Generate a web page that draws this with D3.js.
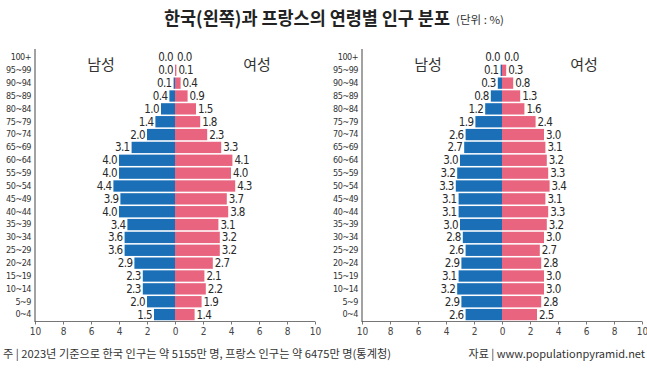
<!DOCTYPE html>
<html>
<head>
<meta charset="utf-8">
<script src="https://cdn.jsdelivr.net/npm/d3@7"></script>
<style>
  body { margin: 0; background: #fff; }
  svg { display: block; }
  .num { font-family: "Liberation Sans Narrow", "DejaVu Sans Condensed", "Liberation Sans", sans-serif; }
  .kr { font-family: "Noto Sans CJK KR", "Noto Sans", sans-serif; }
</style>
</head>
<body>
<div id="vis"></div>
<script>
const WIDTH = 647;
const HEIGHT = 370;

const SVG = d3.select("#vis").append("svg")
  .attr("width", WIDTH).attr("height", HEIGHT);

// 연령대 (위에서 아래로)
const ages = ["100+", "95~99", "90~94", "85~89", "80~84", "75~79", "70~74", "65~69",
  "60~64", "55~59", "50~54", "45~49", "40~44", "35~39", "30~34", "25~29",
  "20~24", "15~19", "10~14", "5~9", "0~4"];

const koreaMale = [0.0, 0.0, 0.1, 0.4, 1.0, 1.4, 2.0, 3.1, 4.0, 4.0, 4.4, 3.9, 4.0,
  3.4, 3.6, 3.6, 2.9, 2.3, 2.3, 2.0, 1.5];
const koreaFemale = [0.0, 0.1, 0.4, 0.9, 1.5, 1.8, 2.3, 3.3, 4.1, 4.0, 4.3, 3.7, 3.8,
  3.1, 3.2, 3.2, 2.7, 2.1, 2.2, 1.9, 1.4];
const franceMale = [0.0, 0.1, 0.3, 0.8, 1.2, 1.9, 2.6, 2.7, 3.0, 3.2, 3.3, 3.1, 3.1,
  3.0, 2.8, 2.6, 2.9, 3.1, 3.2, 2.9, 2.6];
const franceFemale = [0.0, 0.3, 0.8, 1.3, 1.6, 2.4, 3.0, 3.1, 3.2, 3.3, 3.4, 3.1, 3.3,
  3.2, 3.0, 2.7, 2.8, 3.0, 3.0, 2.8, 2.5];

const xTicks = [-10, -8, -6, -4, -2, 0, 2, 4, 6, 8, 10];

const BLUE = "#1b6fb6";
const PINK = "#e9657f";

const y = d3.scaleBand().domain(ages).range([51, 321]).paddingInner(0.12).paddingOuter(0.06);

function pyramid(x0, x1, male, female) {
  const x = d3.scaleLinear().domain([-10, 10]).range([x0, x1]);
  const g = SVG.append("g");
  const rows = ages.map((a, i) => ({ age: a, m: male[i], f: female[i] }));

  g.selectAll(".m").data(rows).join("rect")
    .attr("fill", BLUE)
    .attr("x", d => x(-d.m))
    .attr("y", d => y(d.age))
    .attr("width", d => x(0) - x(-d.m))
    .attr("height", y.bandwidth());

  g.selectAll(".f").data(rows).join("rect")
    .attr("fill", PINK)
    .attr("x", x(0))
    .attr("y", d => y(d.age))
    .attr("width", d => x(d.f) - x(0))
    .attr("height", y.bandwidth());

  const cy = d => y(d.age) + y.bandwidth() / 2 + 4;

  g.selectAll(".ml").data(rows).join("text")
    .attr("class", "num")
    .attr("x", d => x(-d.m) - 2)
    .attr("y", cy)
    .attr("text-anchor", "end")
    .attr("font-size", 11.5)
    .attr("letter-spacing", -0.6)
    .attr("fill", "#2a2a2a")
    .text(d => d.m.toFixed(1));

  g.selectAll(".fl").data(rows).join("text")
    .attr("class", "num")
    .attr("x", d => x(d.f) + 2)
    .attr("y", cy)
    .attr("font-size", 11.5)
    .attr("letter-spacing", -0.6)
    .attr("fill", "#2a2a2a")
    .text(d => d.f.toFixed(1));

  // x축
  const xa = g.append("g")
    .attr("transform", "translate(0,321.5)")
    .call(d3.axisBottom(x).tickValues(xTicks).tickSize(3).tickFormat(d => Math.abs(d)));
  xa.select(".domain").attr("stroke", "#777").attr("d", `M${x0},0H${x1}`);
  xa.selectAll(".tick line").attr("stroke", "#777");
  xa.selectAll("text").attr("class", "num").attr("font-size", 10).attr("fill", "#444")
    .attr("dy", "0.9em").attr("y", 4);

  // y축
  const ya = g.append("g")
    .attr("transform", `translate(${x0},0)`)
    .call(d3.axisLeft(y).tickSize(0).tickPadding(4));
  ya.select(".domain").attr("stroke", "#444").attr("d", "M0,49V322");
  ya.selectAll("text").attr("class", "num").attr("font-size", 9).attr("fill", "#333")
    .attr("letter-spacing", -0.5);

  const mid = x(0);
  g.append("text").attr("class", "kr").attr("x", mid - 74).attr("y", 70)
    .attr("text-anchor", "middle").attr("font-size", 15).attr("fill", "#333").text("남성");
  g.append("text").attr("class", "kr").attr("x", mid + 82).attr("y", 70)
    .attr("text-anchor", "middle").attr("font-size", 15).attr("fill", "#333").text("여성");
}

pyramid(35, 315, koreaMale, koreaFemale);
pyramid(362, 642, franceMale, franceFemale);

// 제목
SVG.append("text").attr("class", "kr")
  .attr("x", 164).attr("y", 25)
  .attr("font-size", 18).attr("font-weight", "bold").attr("fill", "#222")
  .attr("textLength", 286).attr("lengthAdjust", "spacingAndGlyphs")
  .text("한국(왼쪽)과 프랑스의 연령별 인구 분포");
SVG.append("text").attr("class", "kr")
  .attr("x", 456).attr("y", 24)
  .attr("font-size", 11).attr("fill", "#333")
  .attr("textLength", 48).attr("lengthAdjust", "spacingAndGlyphs")
  .text("(단위 : %)");

// 주석
SVG.append("text").attr("class", "kr")
  .attr("x", 3).attr("y", 358)
  .attr("font-size", 11).attr("fill", "#333")
  .attr("textLength", 388).attr("lengthAdjust", "spacingAndGlyphs")
  .text("주 | 2023년 기준으로 한국 인구는 약 5155만 명, 프랑스 인구는 약 6475만 명(통계청)");
SVG.append("text").attr("class", "kr")
  .attr("x", 645).attr("y", 358)
  .attr("text-anchor", "end")
  .attr("font-size", 11).attr("fill", "#333")
  .text("자료 | www.populationpyramid.net");
</script>
</body>
</html>
